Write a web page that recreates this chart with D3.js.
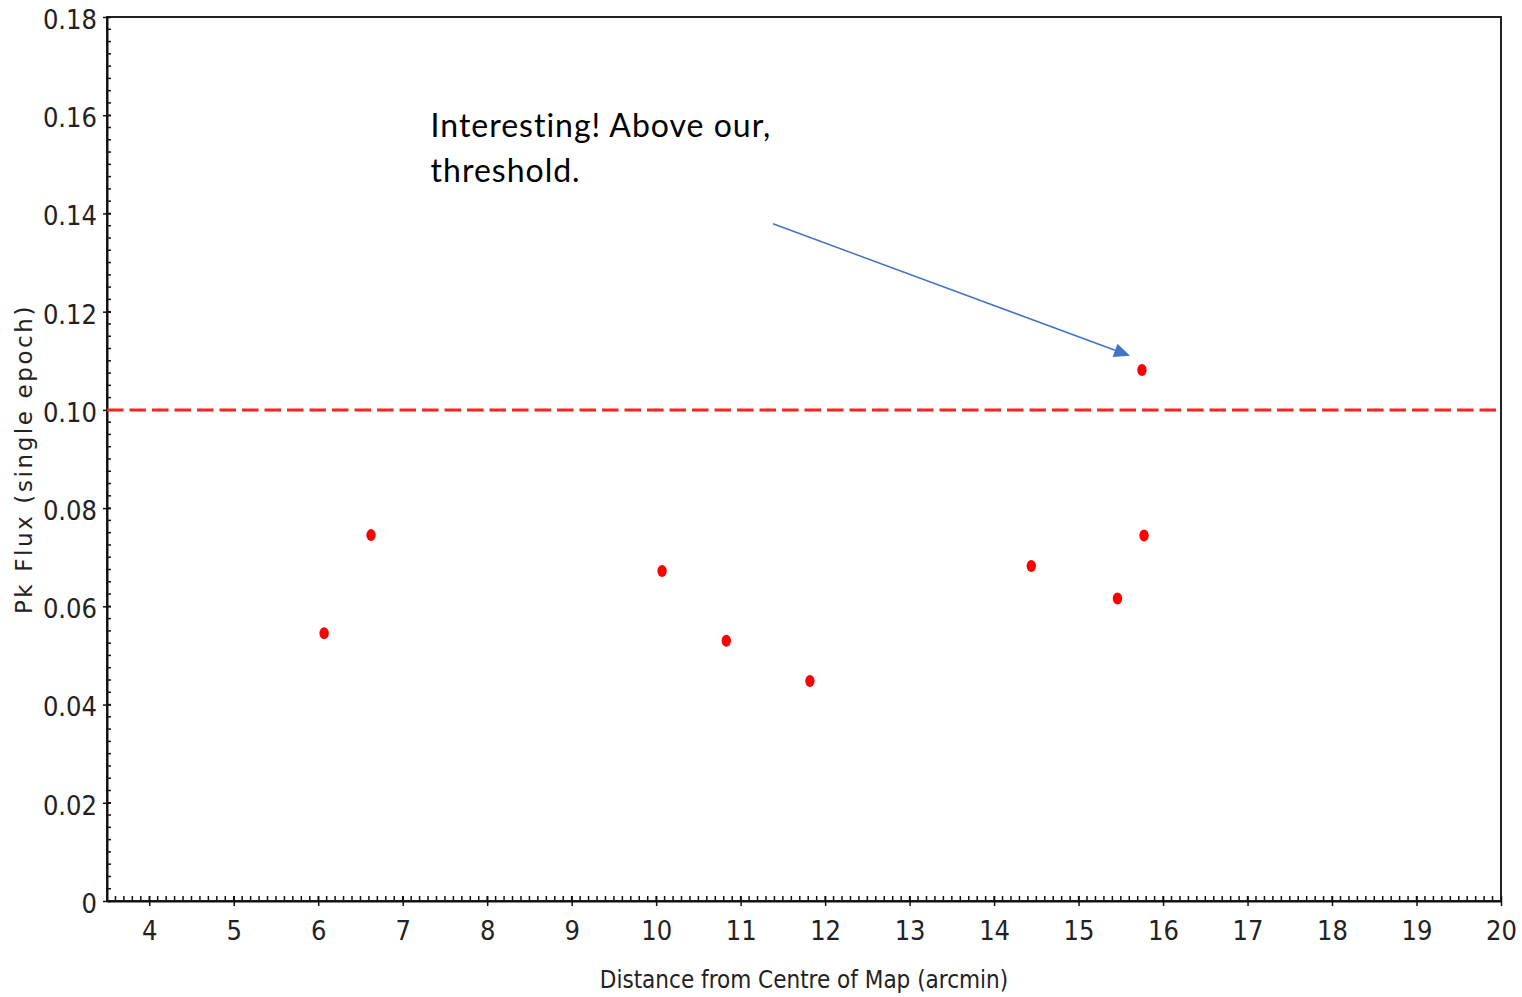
<!DOCTYPE html>
<html>
<head>
<meta charset="utf-8">
<script src="https://cdn.jsdelivr.net/npm/d3@7"></script>
<style>
  body { margin: 0; background: #fff; }
  .tick text { font-family: "DejaVu Sans Condensed", "DejaVu Sans", sans-serif; font-stretch: condensed; font-size: 27px; fill: #222; }
  .axis path, .axis line { stroke: #111; }
</style>
</head>
<body>
<svg id="chart" width="1522" height="997"></svg>
<script>
// distance from centre of map (arcmin) and peak flux (single epoch)
var distances = [6.07, 6.625, 10.07, 10.83, 11.82, 14.44, 15.46, 15.75, 15.775];
var fluxes    = [0.0545, 0.0745, 0.0672, 0.0530, 0.0448, 0.0682, 0.0616, 0.1081, 0.0744];
var threshold = 0.10;
var xTicks = [4, 5, 6, 7, 8, 9, 10, 11, 12, 13, 14, 15, 16, 17, 18, 19, 20];
var yTicks = [0, 0.02, 0.04, 0.06, 0.08, 0.10, 0.12, 0.14, 0.16, 0.18];
var noteLines = ["Interesting! Above our,", "threshold."];

const width = 1522, height = 997;
const margin = { top: 17, right: 21, bottom: 96, left: 107 };

var svg = d3.select("#chart");

var x = d3.scaleLinear()
    .domain([3.5, 20])
    .range([margin.left, width - margin.right]);

var y = d3.scaleLinear()
    .domain([0, 0.18])
    .range([height - margin.bottom, margin.top]);

// minor ticks (inside the frame)
var xMinor = d3.range(35, 201).map(d => d / 10);
var yMinor = d3.range(0, 73).map(d => d * 0.0025);

svg.append("g")
    .selectAll("line.xminor")
    .data(xMinor)
    .enter()
    .append("line")
    .attr("class", "xminor")
    .attr("x1", d => x(d)).attr("x2", d => x(d))
    .attr("y1", y(0)).attr("y2", y(0) - 5)
    .attr("stroke", "#111").attr("stroke-width", 1.5);

svg.append("g")
    .selectAll("line.yminor")
    .data(yMinor)
    .enter()
    .append("line")
    .attr("class", "yminor")
    .attr("y1", d => y(d)).attr("y2", d => y(d))
    .attr("x1", x(3.5)).attr("x2", x(3.5) + 4)
    .attr("stroke", "#111").attr("stroke-width", 1.5);

// frame
svg.append("rect")
    .attr("x", x(3.5))
    .attr("y", y(0.18))
    .attr("width", x(20) - x(3.5))
    .attr("height", y(0) - y(0.18))
    .attr("fill", "none")
    .attr("stroke", "#222")
    .attr("stroke-width", 2);

// axes
var xAxis = d3.axisBottom(x)
    .tickValues(xTicks)
    .tickSizeInner(5)
    .tickSizeOuter(0)
    .tickPadding(15)
    .tickFormat(d3.format("d"));

var yAxis = d3.axisLeft(y)
    .tickValues(yTicks)
    .tickSizeInner(4)
    .tickSizeOuter(0)
    .tickPadding(6)
    .tickFormat(d => d === 0 ? "0" : d3.format(".2f")(d));

var gx = svg.append("g")
    .attr("class", "x axis")
    .attr("transform", "translate(0," + y(0) + ")")
    .call(xAxis);
gx.select(".domain").attr("stroke-width", 2);
gx.selectAll(".tick line").attr("y1", -5).attr("stroke-width", 1.5);

var gy = svg.append("g")
    .attr("class", "y axis")
    .attr("transform", "translate(" + x(3.5) + ",0)")
    .call(yAxis);
gy.select(".domain").attr("stroke-width", 2);
gy.selectAll(".tick line").attr("x1", 4).attr("stroke-width", 1.5);
gy.selectAll(".tick text").attr("dy", "0.42em");

// axis titles
svg.append("text")
    .attr("x", (x(3.5) + x(20)) / 2)
    .attr("y", 988)
    .attr("text-anchor", "middle")
    .style("font-family", "'DejaVu Sans Condensed', 'DejaVu Sans', sans-serif")
    .style("font-stretch", "condensed")
    .style("font-size", "24px")
    .style("fill", "#222")
    .text("Distance from Centre of Map (arcmin)");

svg.append("text")
    .attr("transform", "translate(32," + (y(0) + y(0.18)) / 2 + ") rotate(-90)")
    .attr("text-anchor", "middle")
    .style("font-family", "'DejaVu Sans', sans-serif")
    .style("font-size", "23px")
    .style("letter-spacing", "2.6px")
    .style("fill", "#222")
    .text("Pk Flux (single epoch)");

// threshold line
svg.append("line")
    .attr("x1", x(3.5)).attr("x2", x(20))
    .attr("y1", y(threshold)).attr("y2", y(threshold))
    .attr("stroke", "#f22")
    .attr("stroke-width", 3)
    .attr("stroke-dasharray", "16.5,6");

// points
var pts = distances.map((d, i) => ({ x: d, y: fluxes[i] }));
svg.append("g")
    .selectAll("ellipse")
    .data(pts)
    .enter()
    .append("ellipse")
    .attr("cx", d => x(d.x))
    .attr("cy", d => y(d.y))
    .attr("rx", 4.7)
    .attr("ry", 6)
    .attr("fill", "#f00");

// annotation
var note = svg.append("text")
    .attr("x", x(7.33))
    .attr("y", y(0.1556))
    .style("font-family", "Lato, 'Open Sans', sans-serif")
    .style("font-size", "32px")
    .style("letter-spacing", "1px")
    .style("fill", "#000");
note.selectAll("tspan")
    .data(noteLines)
    .enter()
    .append("tspan")
    .attr("x", x(7.33))
    .attr("dy", (d, i) => i === 0 ? 0 : 45)
    .text(d => d);

// arrow
var a0 = [x(11.383), y(0.1379)], a1 = [x(15.609), y(0.1110)];
var ang = Math.atan2(a1[1] - a0[1], a1[0] - a0[0]);
var headLen = 16, headW = 7;
var base = [a1[0] - headLen * Math.cos(ang), a1[1] - headLen * Math.sin(ang)];
svg.append("line")
    .attr("x1", a0[0]).attr("y1", a0[1])
    .attr("x2", base[0]).attr("y2", base[1])
    .attr("stroke", "#4472c4")
    .attr("stroke-width", 1.5);
svg.append("path")
    .attr("d", d3.line()([
        a1,
        [base[0] + headW * Math.sin(ang), base[1] - headW * Math.cos(ang)],
        [base[0] - headW * Math.sin(ang), base[1] + headW * Math.cos(ang)]
    ]) + "Z")
    .attr("fill", "#4472c4");
</script>
</body>
</html>
